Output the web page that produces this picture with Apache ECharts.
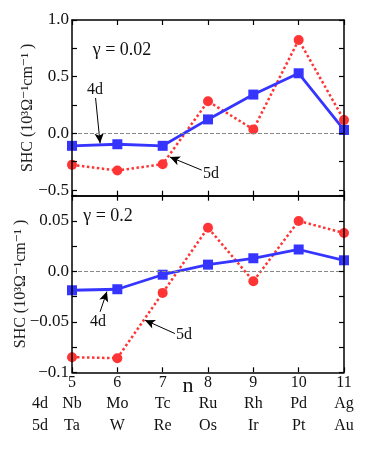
<!DOCTYPE html>
<html>
<head>
<meta charset="utf-8">
<script src="https://cdn.jsdelivr.net/npm/echarts@6/dist/echarts.min.js"></script>
<style>
    html, body { margin: 0; padding: 0; background: #fff; }
    #shc { width: 374px; height: 456px; }
</style>
</head>
<body>
<div id="shc"></div>
<script>
// n 值与元素
var nValues = [5, 6, 7, 8, 9, 10, 11];
var elems4d = ['Nb', 'Mo', 'Tc', 'Ru', 'Rh', 'Pd', 'Ag'];
var elems5d = ['Ta', 'W', 'Re', 'Os', 'Ir', 'Pt', 'Au'];

// γ = 0.02
var top4d = [-0.11, -0.096, -0.11, 0.123, 0.342, 0.53, 0.03];
var top5d = [-0.278, -0.328, -0.272, 0.283, 0.035, 0.824, 0.117];

// γ = 0.2
var bot4d = [-0.0187, -0.0177, -0.0033, 0.0067, 0.013, 0.0217, 0.011];
var bot5d = [-0.085, -0.086, -0.0213, 0.0433, -0.0097, 0.050, 0.038];

// 刻度
var topTicks = [-0.5, -0.25, 0, 0.25, 0.5, 0.75, 1];
var topLabels = [-0.5, 0, 0.5, 1];
var botTicks = [-0.1, -0.075, -0.05, -0.025, 0, 0.025, 0.05, 0.075];
var botLabels = [-0.1, -0.05, 0, 0.05];

(function () {
    var FONT = '"Liberation Serif", "DejaVu Serif", serif';
    var BLUE = '#3535ff', RED = '#ff3535';

    function pairs(ys) {
        return nValues.map(function (n, i) { return [n, ys[i]]; });
    }
    function minus(s) { return s.replace('-', '\u2212'); }

    function frameAxis(gridIndex, pos) {
        return {
            gridIndex: gridIndex,
            position: pos,
            type: 'value',
            z: 5,
            axisLine: { show: true, onZero: false, lineStyle: { color: '#000', width: 1.5 } },
            axisTick: { show: true, inside: true, length: 5, lineStyle: { color: '#000', width: 1.2 } },
            axisLabel: { show: false },
            splitLine: { show: false }
        };
    }

    function xAxisOf(gridIndex, pos, labels) {
        var ax = frameAxis(gridIndex, pos);
        ax.min = 5; ax.max = 11; ax.interval = 1;
        if (labels) {
            ax.axisLabel = {
                show: true,
                margin: 1,
                color: '#111',
                fontFamily: FONT,
                formatter: function (v) {
                    var i = nValues.indexOf(v);
                    return '{n|' + v + '}\n{e|' + elems4d[i] + '}\n{e|' + elems5d[i] + '}';
                },
                rich: {
                    n: { fontSize: 16, lineHeight: 19, fontFamily: FONT, color: '#111' },
                    e: { fontSize: 16, lineHeight: 22, fontFamily: FONT, color: '#111' }
                }
            };
        }
        return ax;
    }

    function yAxisOf(gridIndex, pos, min, max, ticks, labels, fmt, gap) {
        var ax = frameAxis(gridIndex, pos);
        ax.min = min; ax.max = max;
        ax.axisTick.customValues = ticks;
        if (labels) {
            ax.axisLabel = {
                show: true,
                customValues: labels,
                margin: 3,
                fontSize: 17,
                fontFamily: FONT,
                color: '#111',
                formatter: fmt
            };
            ax.name = 'SHC (10\u00b3\u03a9\u207b\u00b9cm\u207b\u00b9 )';
            ax.nameLocation = 'middle';
            ax.nameRotate = 90;
            ax.nameGap = gap;
            ax.nameMoveOverlap = false;
            ax.nameTextStyle = { fontSize: 16, fontFamily: FONT, color: '#222' };
        }
        return ax;
    }

    function arrow(from, to) {
        return [{ coord: from, symbol: 'none' }, { coord: to, symbol: 'arrow' }];
    }

    // 零线
    var zeroMark = {
        silent: true, symbol: ['none', 'none'], label: { show: false },
        lineStyle: { color: '#888', type: 'dashed', width: 1 },
        data: [{ yAxis: 0 }]
    };

    var myChart = echarts.init(document.getElementById('shc'));
    var option = {
        animation: false,
        backgroundColor: '#fff',
        grid: [
            { left: 72, right: 30, top: 20, bottom: 260.3, outerBoundsMode: 'none' },
            { left: 72, right: 30, top: 195.7, bottom: 83.7, outerBoundsMode: 'none' }
        ],
        xAxis: [
            xAxisOf(0, 'bottom', false),
            xAxisOf(0, 'top', false),
            xAxisOf(1, 'bottom', true),
            xAxisOf(1, 'top', false)
        ],
        yAxis: [
            yAxisOf(0, 'left', -0.55, 1, topTicks, topLabels, function (v) { return minus(v.toFixed(1)); }, 36),
            yAxisOf(0, 'right', -0.55, 1, topTicks, null),
            yAxisOf(1, 'left', -0.1, 0.075, botTicks, botLabels, function (v) { return v === 0 ? '0.0' : minus(String(+v.toFixed(3))); }, 43),
            yAxisOf(1, 'right', -0.1, 0.075, botTicks, null)
        ],
        series: [
            {
                type: 'line', xAxisIndex: 0, yAxisIndex: 0, data: pairs(top5d),
                symbol: 'circle', symbolSize: 10, clip: false,
                itemStyle: { color: RED },
                lineStyle: { color: RED, width: 2.5, type: [2.5, 2.5] },
                markLine: {
                    silent: true, symbolSize: [7, 10], label: { show: false },
                    lineStyle: { color: '#000', width: 1, type: 'solid' },
                    data: [
                        arrow([5.52, 0.312], [5.62, -0.088]),
                        arrow([7.86, -0.324], [7.16, -0.209])
                    ]
                }
            },
            {
                type: 'line', xAxisIndex: 0, yAxisIndex: 0, data: pairs(top4d),
                symbol: 'rect', symbolSize: 10, clip: false,
                itemStyle: { color: BLUE },
                lineStyle: { color: BLUE, width: 2.8 },
                markLine: zeroMark
            },
            {
                type: 'line', xAxisIndex: 2, yAxisIndex: 2, data: pairs(bot5d),
                symbol: 'circle', symbolSize: 10, clip: false,
                itemStyle: { color: RED },
                lineStyle: { color: RED, width: 2.5, type: [2.5, 2.5] },
                markLine: {
                    silent: true, symbolSize: [7, 10], label: { show: false },
                    lineStyle: { color: '#000', width: 1, type: 'solid' },
                    data: [
                        arrow([5.62, -0.040], [5.77, -0.020]),
                        arrow([7.27, -0.0616], [6.61, -0.0483])
                    ]
                }
            },
            {
                type: 'line', xAxisIndex: 2, yAxisIndex: 2, data: pairs(bot4d),
                symbol: 'rect', symbolSize: 10, clip: false,
                itemStyle: { color: BLUE },
                lineStyle: { color: BLUE, width: 2.8 },
                markLine: zeroMark
            }
        ],
        graphic: [
            // 遮住框外的半个标记
            { type: 'rect', z: 3, shape: { x: 60, y: 10, width: 11.5, height: 370 }, style: { fill: '#fff' } },
            { type: 'rect', z: 3, shape: { x: 344.5, y: 10, width: 29, height: 370 }, style: { fill: '#fff' } },
            { type: 'text', z: 6, x: 122, y: 50, style: { text: '\u03b3 = 0.02', font: '18px ' + FONT, fill: '#111', align: 'center', verticalAlign: 'middle' } },
            { type: 'text', z: 6, x: 108, y: 216, style: { text: '\u03b3 = 0.2', font: '18px ' + FONT, fill: '#111', align: 'center', verticalAlign: 'middle' } },
            { type: 'text', z: 6, x: 95, y: 90, style: { text: '4d', font: '16px ' + FONT, fill: '#111', align: 'center', verticalAlign: 'middle' } },
            { type: 'text', z: 6, x: 211, y: 174, style: { text: '5d', font: '16px ' + FONT, fill: '#111', align: 'center', verticalAlign: 'middle' } },
            { type: 'text', z: 6, x: 98, y: 322, style: { text: '4d', font: '16px ' + FONT, fill: '#111', align: 'center', verticalAlign: 'middle' } },
            { type: 'text', z: 6, x: 184, y: 335, style: { text: '5d', font: '16px ' + FONT, fill: '#111', align: 'center', verticalAlign: 'middle' } },
            { type: 'text', z: 6, x: 188, y: 386, style: { text: 'n', font: '22px ' + FONT, fill: '#111', align: 'center', verticalAlign: 'middle' } },
            { type: 'text', z: 6, x: 40, y: 404, style: { text: '4d', font: '16px ' + FONT, fill: '#111', align: 'center', verticalAlign: 'middle' } },
            { type: 'text', z: 6, x: 40, y: 425.5, style: { text: '5d', font: '16px ' + FONT, fill: '#111', align: 'center', verticalAlign: 'middle' } }
        ]
    };
    myChart.setOption(option);
})()
</script>
</body>
</html>
